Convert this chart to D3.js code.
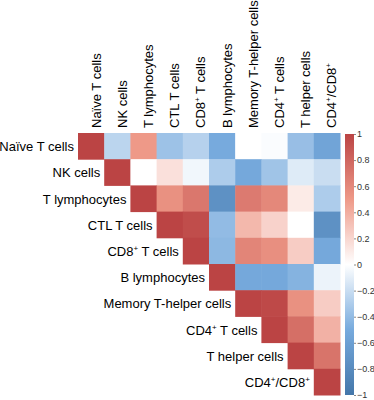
<!DOCTYPE html>
<html>
<head>
<meta charset="utf-8">
<script src="https://cdn.jsdelivr.net/npm/d3@7"></script>
<style>
  body { margin: 0; background: #fff; }
  svg { display: block; font-family: "Liberation Sans", Arial, sans-serif; }
</style>
</head>
<body>
<svg id="svg"></svg>
<script>
// variable names, "^+" marks a superscript plus
const labels = ["Naïve T cells", "NK cells", "T lymphocytes", "CTL T cells", "CD8^+ T cells",
  "B lymphocytes", "Memory T-helper cells", "CD4^+ T cells", "T helper cells", "CD4^+/CD8^+"];

// upper triangle, row i starts at column i
const rowNaive  = [1, -0.25, 0.5, -0.36, -0.27, -0.5, 0, -0.02, -0.38, -0.56];
const rowNK     = [1, 0, 0.15, -0.05, -0.3, -0.52, -0.35, -0.12, -0.2];
const rowTlym   = [1, 0.55, 0.7, -0.75, 0.68, 0.6, 0.1, -0.3];
const rowCTL    = [1, 0.95, -0.4, 0.35, 0.22, 0, -0.75];
const rowCD8    = [1, -0.42, 0.62, 0.56, 0.25, -0.52];
const rowB      = [1, -0.52, -0.52, -0.45, -0.07];
const rowMemory = [1, 0.97, 0.55, 0.25];
const rowCD4    = [1, 0.75, 0.38];
const rowTh     = [1, 0.72];
const rowRatio  = [1];
const rows = [rowNaive, rowNK, rowTlym, rowCTL, rowCD8, rowB, rowMemory, rowCD4, rowTh, rowRatio];

const barTicks = [1, 0.8, 0.6, 0.4, 0.2, 0, -0.2, -0.4, -0.6, -0.8, -1];

const W = 374, H = 400;
const svg = d3.select("#svg").attr("width", W).attr("height", H);

const x = d3.scaleBand().domain(d3.range(labels.length)).range([78, 340]);
const y = d3.scaleBand().domain(d3.range(labels.length)).range([133, 395]);
const color = d3.scaleLinear()
  .domain([-1, -0.5, 0, 0.5, 1])
  .range(["#4477AA", "#77AADD", "#FFFFFF", "#EE9988", "#BB4444"]);

const cells = [];
rows.forEach((r, i) => r.forEach((v, k) => cells.push({ i: i, j: i + k, v: v })));

svg.append("g").selectAll("rect")
  .data(cells)
  .join("rect")
  .attr("x", d => x(d.j))
  .attr("y", d => y(d.i))
  .attr("width", x.bandwidth() + 0.5)
  .attr("height", y.bandwidth() + 0.5)
  .attr("fill", d => color(d.v));

// write a label with superscript "+" signs
function putLabel(sel, s) {
  s.split(/(\^\+)/).filter(p => p.length).forEach(p => {
    if (p === "^+") {
      sel.append("tspan").attr("font-size", "8px").attr("dy", "-5").text("+");
    } else {
      sel.append("tspan").attr("dy", sel.selectAll("tspan").size() ? "5" : null).text(p);
    }
  });
}

// row labels
svg.append("g").selectAll("text")
  .data(labels)
  .join("text")
  .attr("x", (d, i) => x(i) - 4)
  .attr("y", (d, i) => y(i) + y.bandwidth() / 2)
  .attr("dy", "0.35em")
  .attr("text-anchor", "end")
  .attr("font-size", "13px")
  .attr("fill", "#000")
  .each(function (d) { putLabel(d3.select(this), d); });

// column labels
svg.append("g").selectAll("text")
  .data(labels)
  .join("text")
  .attr("transform", (d, i) => `translate(${x(i) + x.bandwidth() / 2 + 4.5},128) rotate(-90)`)
  .attr("font-size", "13px")
  .attr("fill", "#000")
  .each(function (d) { putLabel(d3.select(this), d); });

// colour bar
const bar = d3.scaleLinear().domain([-1, 1]).range([395, 134]);
const grad = svg.append("defs").append("linearGradient")
  .attr("id", "cbar").attr("x1", 0).attr("x2", 0).attr("y1", 1).attr("y2", 0);
grad.selectAll("stop")
  .data(color.domain())
  .join("stop")
  .attr("offset", d => (d + 1) / 2)
  .attr("stop-color", d => color(d));

svg.append("rect")
  .attr("x", 345).attr("y", bar(1))
  .attr("width", 9).attr("height", bar(-1) - bar(1))
  .attr("fill", "url(#cbar)");

const axis = svg.append("g")
  .attr("transform", "translate(354,0)")
  .call(d3.axisRight(bar).tickValues(barTicks).tickSize(2).tickPadding(1).tickFormat(d3.format("")));
axis.select(".domain").remove();
axis.selectAll("line").attr("stroke", "#888");
axis.selectAll("text").attr("font-size", "9px").attr("fill", "#333")
  .attr("font-family", "'Liberation Sans', Arial, sans-serif");
</script>
</body>
</html>
